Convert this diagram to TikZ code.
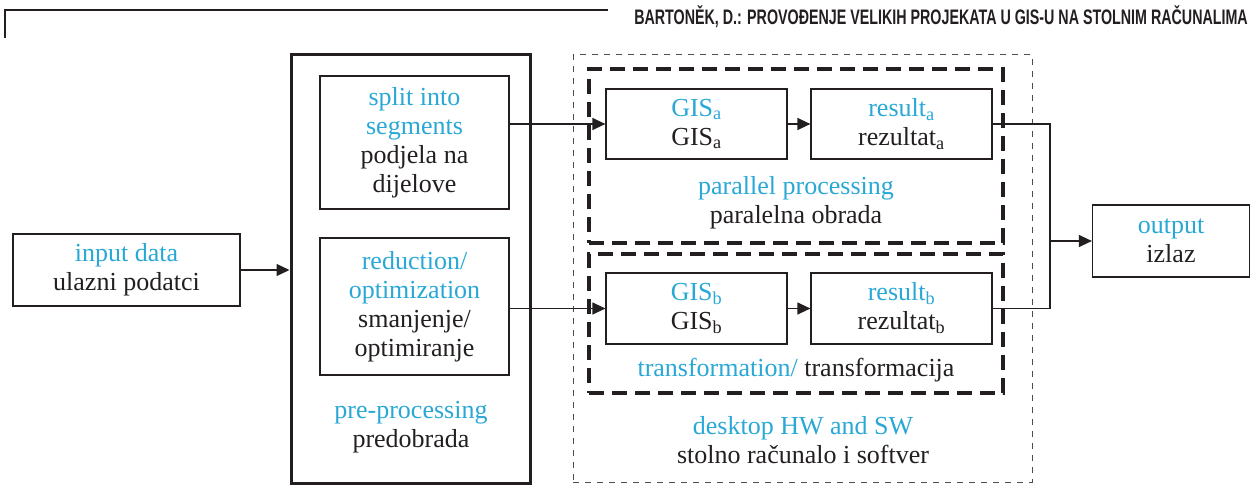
\documentclass[tikz,border=0pt]{standalone}
\usepackage{fontspec}
\setmainfont{Liberation Serif}
\newfontfamily\hdrfont{Liberation Sans}
\usetikzlibrary{arrows.meta}
\definecolor{cblue}{RGB}{41,168,214}
\definecolor{ctext}{RGB}{35,31,32}
\newcommand{\bl}[1]{\textcolor{cblue}{#1}}
\tikzset{
  box/.style={draw=ctext, line width=1.2pt, align=center, inner sep=0pt, text=ctext,
     font=\fontsize{26}{29}\selectfont},
  lbl/.style={align=center, inner sep=0pt, text=ctext, font=\fontsize{26}{29}\selectfont},
  arr/.style={draw=ctext, line width=1.2pt, -{Triangle[length=13pt,width=12pt]}},
  ln/.style={draw=ctext, line width=1.2pt},
  thickdash/.style={draw=ctext, line width=3.2pt, dash pattern=on 15pt off 8pt},
  thindash/.style={draw=ctext!80, line width=1pt, dash pattern=on 6pt off 6pt},
}
\begin{document}
\begin{tikzpicture}[x=1pt,y=-1pt]
\useasboundingbox (0,0) rectangle (1251,486);
% header
\draw[ctext, line width=2pt] (5,38) -- (5,10) -- (608,10);
\node[anchor=base east, inner sep=0pt, text=ctext] (hdr) at (1248,25)
  {\scalebox{0.68}[1]{\fontsize{21}{22}\hdrfont\bfseries BARTONĚK, D.: PROVOĐENJE VELIKIH PROJEKATA U GIS-U NA STOLNIM RAČUNALIMA}};
% outer dashed box
\node[thindash, minimum width=459pt, minimum height=427pt, inner sep=0pt] (desk) at (802.5,268.5) {};
\node[thickdash, minimum width=414pt, minimum height=174pt, inner sep=0pt] (pa) at (796,156) {};
\node[thickdash, minimum width=414pt, minimum height=139pt, inner sep=0pt] (pb) at (796,323.5) {};
% pre-processing box
\node[draw=ctext, line width=3pt, minimum width=239pt, minimum height=428pt, inner sep=0pt] (pre) at (410.5,269) {};
% boxes
\node[box, minimum width=227pt, minimum height=72pt] (inp) at (126.5,270) {\bl{input data}\\ulazni podatci};
\node[box, minimum width=189pt, minimum height=133pt] (split) at (414.5,142.5) {\bl{split into}\\\bl{segments}\\podjela na\\dijelove};
\node[box, minimum width=189pt, minimum height=137pt] (red) at (414.5,306.5) {\bl{reduction/}\\\bl{optimization}\\smanjenje/\\optimiranje};
\node[box, minimum width=181pt, minimum height=70pt] (gisa) at (696.5,124) {\bl{GIS\textsubscript{a}}\\GIS\textsubscript{a}};
\node[box, minimum width=181pt, minimum height=70pt] (resa) at (901.5,124) {\bl{result\textsubscript{a}}\\rezultat\textsubscript{a}};
\node[box, minimum width=181pt, minimum height=71pt] (gisb) at (696.5,308.5) {\bl{GIS\textsubscript{b}}\\GIS\textsubscript{b}};
\node[box, minimum width=181pt, minimum height=71pt] (resb) at (901.5,308.5) {\bl{result\textsubscript{b}}\\rezultat\textsubscript{b}};
\node[box, minimum width=157pt, minimum height=72pt] (out) at (1171,241) {\bl{output}\\izlaz};
% labels
\node[lbl] (lpre) at (411,427) {\bl{pre-processing}\\predobrada};
\node[lbl] (lpa) at (796,203) {\bl{parallel processing}\\paralelna obrada};
\node[lbl] (lpb) at (796,370) {\bl{transformation/} transformacija};
\node[lbl] (ldesk) at (803,440) {\bl{desktop HW and SW}\\stolno računalo i softver};
% connectors
\coordinate (ja) at (1050,124);
\coordinate (jb) at (1050,308.5);
\coordinate (jm) at (1050,241);
\draw[arr] (inp.east) -- (inp.east -| pre.west);
\draw[arr] (gisa.west -| split.east) -- (gisa.west);
\draw[arr] (gisb.west -| red.east) -- (gisb.west);
\draw[arr] (gisa.east) -- (resa.west);
\draw[arr] (gisb.east) -- (resb.west);
\draw[ln] (resa.east) -- (ja) -- (jb) -- (resb.east);
\draw[arr] (jm) -- (out.west);
\end{tikzpicture}
\end{document}
